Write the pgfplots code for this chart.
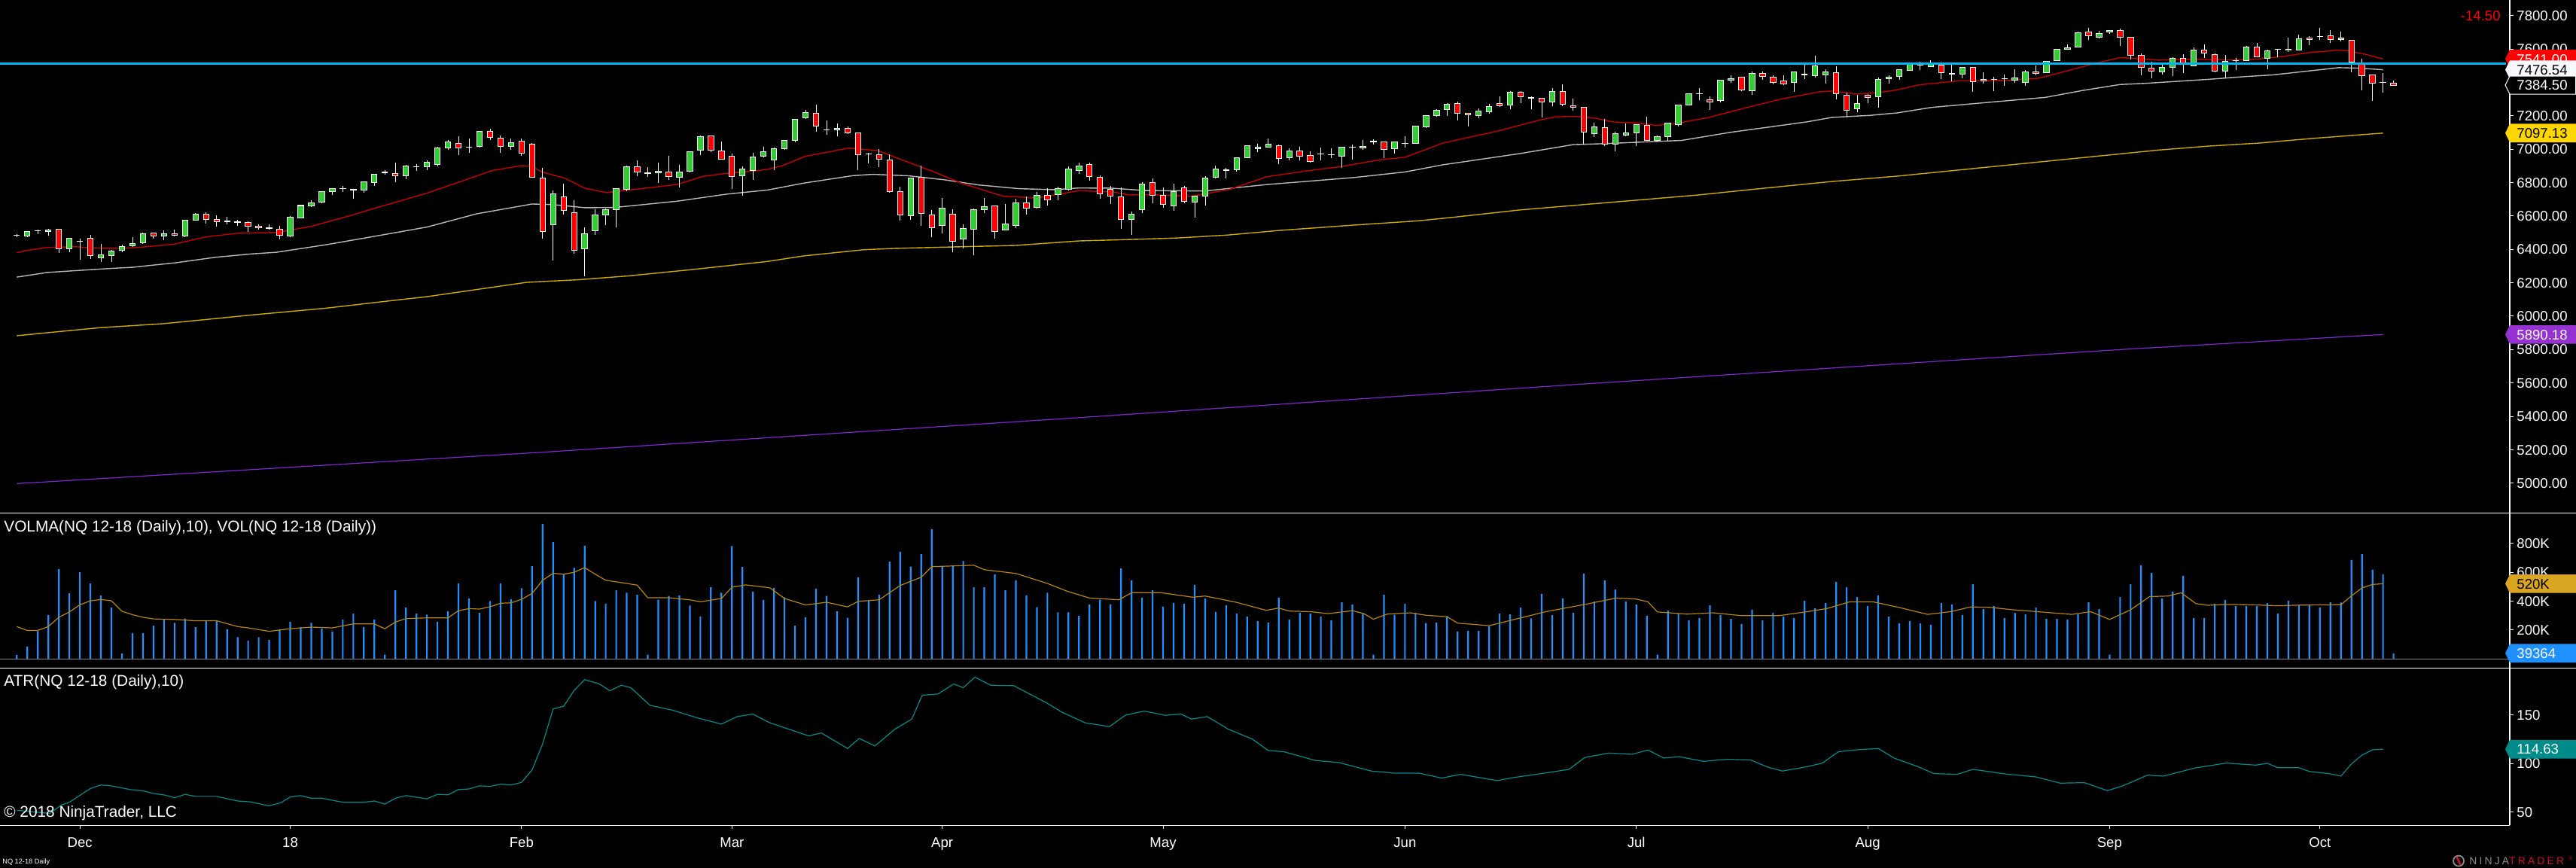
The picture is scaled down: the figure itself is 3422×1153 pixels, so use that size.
\documentclass[border=0pt]{standalone}
\usepackage{fontspec}
\setmainfont{Liberation Sans}
\usepackage{pgfplots}
\pgfplotsset{compat=1.18}
\usepackage{pgfplotstable}

\definecolor{upc}{RGB}{50,205,50}
\definecolor{dnc}{RGB}{255,0,0}
\definecolor{maA}{RGB}{195,0,0}
\definecolor{maB}{RGB}{185,185,185}
\definecolor{maC}{RGB}{205,172,0}
\definecolor{maD}{RGB}{125,40,210}
\definecolor{hline}{RGB}{0,182,240}
\definecolor{volc}{RGB}{30,144,255}
\definecolor{volma}{RGB}{184,134,11}
\definecolor{atrc}{RGB}{0,139,139}
\definecolor{tgold}{RGB}{255,215,0}
\definecolor{tpurp}{RGB}{150,50,210}
\definecolor{tvolma}{RGB}{218,165,32}
\definecolor{tteal}{RGB}{0,139,139}
\definecolor{ghost}{RGB}{248,248,255}
\definecolor{ninjagray}{RGB}{140,140,140}
\definecolor{ninjared}{RGB}{200,16,46}

\newcommand\lbl{\fontsize{9.3bp}{11bp}\selectfont}
\newcommand\plbl{\fontsize{10.4bp}{12bp}\selectfont}

\pgfplotstableread{
i O H L C
0 6483 6491 6472 6485
1 6479 6511 6475 6508
2 6510 6518 6490 6512
3 6506 6523 6484 6517
4 6521 6521 6380 6404
5 6404 6467 6385 6467
6 6447 6464 6340 6449
7 6467 6485 6344 6364
8 6350 6433 6326 6368
9 6364 6397 6326 6391
10 6395 6427 6385 6418
11 6421 6473 6415 6436
12 6439 6500 6433 6494
13 6499 6499 6466 6481
14 6479 6512 6457 6493
15 6494 6517 6479 6485
16 6479 6576 6475 6576
17 6576 6618 6576 6612
18 6612 6621 6556 6580
19 6580 6604 6538 6567
20 6567 6594 6552 6569
21 6565 6576 6543 6563
22 6562 6567 6506 6540
23 6540 6549 6520 6531
24 6527 6549 6520 6529
25 6521 6541 6461 6485
26 6479 6598 6475 6594
27 6589 6667 6589 6663
28 6661 6693 6655 6679
29 6682 6747 6678 6747
30 6747 6765 6728 6765
31 6763 6780 6746 6765
32 6757 6759 6705 6759
33 6756 6806 6741 6806
34 6801 6851 6782 6851
35 6860 6875 6849 6862
36 6855 6920 6804 6842
37 6842 6908 6822 6901
38 6894 6910 6872 6896
39 6896 6934 6875 6923
40 6908 7015 6899 7009
41 7009 7054 6998 7045
42 7036 7077 6967 7009
43 7011 7065 6980 7013
44 7016 7108 7012 7108
45 7108 7122 7057 7072
46 7068 7081 6980 7018
47 7018 7063 6998 7040
48 7049 7063 6962 6977
49 7031 7037 6828 6833
50 6828 6889 6466 6508
51 6549 6752 6335 6734
52 6716 6794 6610 6634
53 6621 6695 6376 6395
54 6404 6532 6241 6495
55 6513 6639 6489 6607
56 6607 6643 6547 6639
57 6639 6765 6534 6765
58 6761 6902 6747 6896
59 6896 6934 6840 6865
60 6857 6893 6836 6859
61 6860 6920 6800 6869
62 6865 6961 6818 6838
63 6833 6907 6773 6865
64 6869 6986 6860 6986
65 6995 7081 6967 7077
66 7081 7081 6982 6995
67 6991 7045 6937 6941
68 6959 6973 6764 6837
69 6842 6896 6723 6883
70 6874 6977 6818 6955
71 6959 7013 6950 6986
72 6937 7009 6877 7004
73 7004 7054 6995 7054
74 7054 7180 7043 7180
75 7189 7234 7180 7221
76 7216 7268 7107 7140
77 7115 7171 7089 7117
78 7117 7153 7080 7126
79 7126 7135 7090 7099
80 7099 7099 6877 6968
81 6970 6977 6917 6972
82 6968 7000 6895 6941
83 6937 6968 6740 6747
84 6747 6774 6574 6607
85 6603 6828 6579 6828
86 6833 6901 6543 6615
87 6607 6634 6475 6531
88 6544 6707 6498 6648
89 6612 6639 6382 6450
90 6463 6549 6404 6526
91 6522 6644 6364 6639
92 6639 6707 6616 6657
93 6662 6662 6463 6508
94 6517 6671 6517 6553
95 6544 6702 6526 6680
96 6680 6716 6607 6648
97 6652 6743 6644 6725
98 6725 6765 6662 6698
99 6729 6774 6693 6765
100 6761 6896 6752 6883
101 6874 6919 6851 6901
102 6910 6919 6810 6837
103 6833 6842 6702 6734
104 6761 6779 6671 6720
105 6716 6770 6522 6580
106 6580 6625 6486 6612
107 6639 6801 6616 6792
108 6801 6825 6678 6725
109 6725 6770 6651 6669
110 6661 6792 6633 6747
111 6770 6779 6678 6689
112 6684 6720 6592 6720
113 6720 6837 6664 6828
114 6833 6901 6825 6883
115 6874 6887 6827 6876
116 6878 6950 6864 6950
117 6950 7022 6946 7022
118 7004 7033 6982 7013
119 7013 7064 7009 7031
120 7022 7028 6910 6946
121 6950 7004 6932 6991
122 6991 7013 6932 6959
123 6964 6986 6919 6928
124 6972 7009 6935 6974
125 6966 7004 6946 6968
126 6959 7013 6887 7013
127 7012 7027 6940 7014
128 7009 7054 6998 7018
129 7045 7058 7027 7047
130 7045 7045 6946 7000
131 7004 7045 6973 7045
132 7033 7078 7012 7035
133 7036 7140 7031 7140
134 7135 7203 7126 7203
135 7203 7239 7194 7234
136 7239 7275 7198 7270
137 7275 7284 7171 7216
138 7216 7216 7135 7207
139 7203 7243 7185 7230
140 7225 7270 7212 7257
141 7275 7316 7252 7261
142 7266 7347 7239 7343
143 7343 7347 7275 7316
144 7306 7316 7239 7308
145 7307 7307 7189 7284
146 7284 7365 7257 7347
147 7347 7388 7257 7271
148 7262 7302 7230 7253
149 7253 7253 7027 7104
150 7095 7158 7072 7135
151 7131 7180 7018 7032
152 7032 7104 6986 7095
153 7086 7153 7077 7099
154 7099 7149 7018 7149
155 7144 7194 7054 7054
156 7054 7081 7045 7077
157 7077 7158 7050 7158
158 7149 7266 7135 7266
159 7266 7334 7266 7334
160 7333 7365 7293 7335
161 7298 7316 7235 7284
162 7293 7415 7280 7415
163 7415 7442 7397 7424
164 7433 7433 7347 7356
165 7352 7465 7325 7456
166 7456 7465 7415 7438
167 7433 7442 7388 7401
168 7410 7442 7383 7392
169 7401 7465 7343 7465
170 7447 7511 7420 7449
171 7442 7561 7428 7501
172 7446 7478 7392 7465
173 7460 7496 7298 7334
174 7325 7338 7194 7235
175 7244 7325 7221 7275
176 7325 7329 7275 7311
177 7316 7428 7248 7419
178 7424 7442 7392 7433
179 7438 7478 7415 7478
180 7474 7519 7474 7510
181 7504 7523 7474 7506
182 7496 7532 7492 7510
183 7505 7505 7422 7460
184 7451 7510 7406 7453
185 7451 7492 7424 7492
186 7492 7492 7346 7406
187 7419 7460 7394 7410
188 7418 7433 7350 7420
189 7421 7446 7382 7423
190 7415 7478 7400 7428
191 7401 7474 7382 7464
192 7464 7501 7442 7455
193 7460 7528 7455 7528
194 7532 7600 7532 7600
195 7600 7627 7595 7609
196 7613 7704 7613 7699
197 7704 7726 7657 7681
198 7672 7708 7663 7695
199 7704 7713 7690 7713
200 7713 7722 7618 7672
201 7672 7672 7537 7564
202 7564 7573 7442 7492
203 7487 7523 7424 7469
204 7465 7510 7446 7492
205 7492 7550 7437 7546
206 7546 7568 7455 7514
207 7501 7609 7501 7595
208 7595 7627 7546 7577
209 7568 7573 7460 7469
210 7469 7564 7424 7528
211 7531 7546 7474 7533
212 7532 7618 7528 7613
213 7613 7636 7550 7555
214 7546 7595 7478 7591
215 7597 7601 7550 7599
216 7594 7667 7582 7600
217 7595 7685 7591 7663
218 7667 7676 7622 7658
219 7675 7726 7654 7677
220 7681 7713 7636 7658
221 7658 7703 7645 7667
222 7654 7654 7460 7523
223 7510 7541 7352 7442
224 7446 7446 7289 7397
225 7399 7455 7341 7401
226 7397 7410 7383 7384.5
}\ohlc

\pgfplotstableread{
i V
0 27
1 85
2 192
3 304
4 621
5 454
6 599
7 522
8 438
9 355
10 38
11 179
12 179
13 230
14 276
15 250
16 280
17 219
18 267
19 267
20 205
21 151
22 126
23 151
24 131
25 205
26 256
27 219
28 250
29 210
30 188
31 273
32 313
33 219
34 273
35 30
36 474
37 355
38 313
39 307
40 256
41 329
42 522
43 418
44 318
45 401
46 522
47 412
48 489
49 641
50 933
51 808
52 585
53 630
54 783
55 401
56 381
57 475
58 458
59 444
60 30
61 409
62 435
63 440
64 369
65 292
66 496
67 458
68 780
69 636
70 464
71 407
72 492
73 427
74 230
75 288
76 485
77 435
78 329
79 284
80 564
81 406
82 444
83 672
84 740
85 639
86 726
87 898
88 643
89 643
90 678
91 496
92 496
93 585
94 475
95 543
96 440
97 357
98 458
99 323
100 323
101 298
102 376
103 409
104 377
105 626
106 543
107 423
108 475
109 362
110 386
111 381
112 512
113 418
114 325
115 371
116 313
117 292
118 261
119 251
120 423
121 271
122 319
123 313
124 292
125 267
126 391
127 376
128 313
129 30
130 444
131 305
132 381
133 319
134 248
135 251
136 296
137 190
138 194
139 194
140 225
141 313
142 308
143 355
144 281
145 449
146 303
147 418
148 319
149 589
150 396
151 543
152 480
153 396
154 376
155 298
156 30
157 334
158 313
159 267
160 282
161 371
162 303
163 277
164 240
165 340
166 267
167 319
168 292
169 282
170 402
171 350
172 386
173 532
174 496
175 428
176 365
177 438
178 292
179 246
180 261
181 246
182 236
183 386
184 376
185 303
186 516
187 344
188 365
189 282
190 319
191 308
192 355
193 277
194 277
195 271
196 308
197 391
198 344
199 30
200 428
201 516
202 647
203 595
204 418
205 464
206 574
207 282
208 282
209 381
210 407
211 365
212 365
213 365
214 386
215 313
216 403
217 372
218 374
219 355
220 392
221 390
222 684
223 724
224 616
225 585
226 39.364
}\vol

\newcommand\ptag[4]{%
  \fill[#2] (3328,#1) -- (3334,#1-12.3) -- (3422,#1-12.3) -- (3422,#1+12.3) -- (3334,#1+12.3) -- cycle;
  \node[anchor=base west,inner sep=0,text=#3,font=\lbl] at (3343,#1+6.66) {#4};}

\begin{document}
\begin{tikzpicture}[x=0.5bp,y=-0.5bp]
\fill[black] (0,0) rectangle (3422,1153);

% ---------------- price panel ----------------
\begin{axis}[at={(0bp,0bp)}, anchor=north west, scale only axis,
  width=1667bp, height=340.55bp,
  xmin=-1.596, xmax=237.06, ymin=4822.3, ymax=7894.4, hide axis]
\addplot[maD, line width=0.6bp] coordinates {(0,4997) (50,5185) (100,5388) (150,5598) (200,5800) (225,5890.18)};
\addplot[maC, line width=0.7bp] coordinates {(0,5883) (3.9,5907) (7.9,5931) (13.9,5955) (17.5,5977) (22.3,6007) (29.4,6048) (35.6,6093) (39,6117) (48.5,6203) (53.3,6218) (58.1,6241) (64,6278) (71.4,6328) (74.8,6361) (80.5,6398) (83.4,6406) (89.1,6415) (95,6424) (101,6451) (107.2,6462) (110.5,6469) (115.1,6486) (120.1,6514) (127.2,6546) (133.2,6571) (136.8,6594) (143,6637) (159.7,6725) (165.4,6762) (172.6,6807) (178.8,6839) (203.6,6995) (208.4,7019) (213.2,7037) (217.9,7063) (225,7097.13)};
\addplot[maB, line width=0.7bp] coordinates {(0,6234) (2.9,6262) (5.6,6273) (8.9,6286) (11,6293) (15.1,6320) (18.9,6353) (22.3,6373) (24.7,6383) (29.4,6428) (35.6,6496) (39,6534) (43.7,6613) (49,6672) (50.9,6669) (54,6650) (56.8,6651) (62.8,6689) (67.6,6732) (71.4,6756) (74.8,6797) (79.5,6842) (81.4,6850) (84.8,6841) (88.1,6818) (91.5,6786) (95.3,6764) (98.6,6758) (101,6768) (104.1,6767) (107.2,6753) (112.9,6750) (118.9,6789) (122.5,6807) (127.2,6831) (132,6864) (135.6,6907) (139.2,6940) (143,6975) (148,7028) (151.1,7034) (155.9,7047) (158.3,7053) (163,7102) (170.2,7164) (172.6,7191) (176.2,7203) (178.8,7218) (182.1,7251) (186.9,7278) (192.9,7311) (196.5,7353) (200,7388) (202.4,7395) (208.4,7419) (212,7436) (214.6,7446) (217.9,7469) (220.8,7489) (222.7,7486) (225,7476.54)};
\addplot[maA, line width=0.7bp] coordinates {(0,6380) (1,6394) (2.9,6412) (5.6,6416) (7.9,6407) (9.9,6406) (11.8,6413) (14.9,6431) (18,6475) (20.8,6496) (24.7,6502) (28,6538) (31.8,6604) (34.2,6650) (35.6,6675) (39,6737) (45.2,6872) (48,6902) (49,6898) (49.9,6865) (52.1,6827) (54,6767) (56.1,6740) (58.1,6755) (62.8,6789) (65.2,6837) (67.6,6857) (70,6869) (71.4,6880) (72.8,6902) (75,6958) (79.1,7007) (81.9,6992) (84.1,6938) (87.2,6865) (89.8,6797) (93.8,6719) (97,6708) (101,6752) (104.3,6744) (105.8,6726) (107.2,6729) (111.7,6719) (115.3,6759) (118.9,6836) (122.5,6869) (126.1,6898) (129.6,6937) (132,6952) (135.6,7037) (139.2,7087) (140.9,7110) (143,7145) (144.7,7173) (146.3,7194) (148,7198) (149.9,7188) (151.8,7164) (154,7158) (155.9,7143) (157.8,7155) (160.9,7191) (164.2,7245) (167.8,7301) (171.4,7344) (172.6,7349) (175,7331) (176.9,7338) (178.8,7356) (180.9,7386) (184.5,7409) (189.3,7413) (192.2,7425) (194.1,7455) (197.7,7516) (200,7549) (202.4,7540) (203.6,7534) (207.2,7540) (210.8,7534) (213.2,7541) (215.5,7556) (217.9,7579) (220.8,7594) (221.7,7588) (223.2,7571) (225,7541)};
% wicks
\addplot[draw=none, mark=none, forget plot,
  error bars/.cd, y dir=plus, y explicit, error mark=none,
  error bar style={draw=white, line width=0.45bp}]
  table[x=i, y=L, y error plus expr={\thisrow{H}-\thisrow{L}}] {\ohlc};
% body outlines
\addplot[draw=none, mark=none, forget plot,
  error bars/.cd, y dir=plus, y explicit, error mark=none,
  error bar style={draw=white, line width=4.2bp}]
  table[x=i, y expr={min(\thisrow{O},\thisrow{C})-2.3}, y error plus expr={abs(\thisrow{C}-\thisrow{O})+4.6}] {\ohlc};
% up fills
\addplot[draw=none, mark=none, forget plot,
  error bars/.cd, y dir=plus, y explicit, error mark=none,
  error bar style={draw=upc, line width=3.2bp}]
  table[x=i, y expr={\thisrow{O}+2.3}, y error plus expr={max(\thisrow{C}-\thisrow{O}-4.6,0)}] {\ohlc};
% down fills
\addplot[draw=none, mark=none, forget plot,
  error bars/.cd, y dir=plus, y explicit, error mark=none,
  error bar style={draw=dnc, line width=3.2bp}]
  table[x=i, y expr={\thisrow{C}+2.3}, y error plus expr={max(\thisrow{O}-\thisrow{C}-4.6,0)}] {\ohlc};
\addplot[hline, line width=1.5bp] coordinates {(-1.6,7514) (236.7,7514)};
\end{axis}

% ---------------- volume panel ----------------
\begin{axis}[at={(0bp,-340.55bp)}, anchor=north west, scale only axis,
  width=1667bp, height=103.2bp,
  xmin=-1.596, xmax=237.06, ymin=-63.5, ymax=1010.6, hide axis]
\addplot[ybar, bar width=1.1bp, fill=volc, draw=none] table[x=i, y=V] {\vol};
\addplot[volma, line width=0.6bp] coordinates {(0,224) (1,197) (2,197) (3,224) (4,288) (5,325) (6,374) (7,402) (8,411) (9,402) (10,330) (11,306) (12,288) (13,277) (15,273) (17,264) (19,264) (21,224) (22,215) (24,191) (26,209) (28,220) (30,215) (32,242) (34,242) (35,209) (36,255) (37,279) (39,284) (41,284) (42,334) (43,348) (44,345) (45,361) (46,385) (47,388) (48,412) (49,453) (50,544) (51,592) (52,586) (53,599) (54,631) (55,586) (56,544) (58,522) (59,510) (60,423) (62,423) (64,409) (65,395) (67,418) (68,496) (69.3,512) (71.6,492) (73,418) (75,373) (77,392) (79,360) (80,398) (82,409) (84,508) (86,565) (87,638) (91,648) (92,617) (95,591) (98,522) (99.8,470) (102,421) (104.8,409) (106,458) (108.8,458) (111.8,427) (113,435) (116,391) (118.8,336) (120,352) (121,331) (123,327) (124.7,313) (127,334) (128.1,313) (129,275) (130.3,310) (132.5,319) (134,302) (136,292) (137,248) (140,230) (142.5,275) (145.4,327) (149.1,377) (152.1,421) (154,414) (155.1,395) (156,325) (158.8,310) (161.3,319) (163.9,300) (167.6,300) (169.9,323) (172.1,348) (174.3,395) (176.5,395) (179.1,354) (181.7,308) (183.9,327) (185.8,360) (187.6,357) (189.8,340) (192.8,323) (195.4,308) (197.2,327) (199,273) (201,340) (202.8,431) (204.6,435) (205.8,458) (207.2,383) (208.3,371) (210.5,377) (213,373) (215,368) (217,372) (221,375) (222,436) (223,491) (224,515) (225,520)};
\end{axis}

% ---------------- ATR panel ----------------
\begin{axis}[at={(0bp,-443.75bp)}, anchor=north west, scale only axis,
  width=1667bp, height=104.4bp,
  xmin=-1.596, xmax=237.06, ymin=36.5, ymax=197.8, hide axis]
\addplot[atrc, line width=0.6bp] coordinates {(0,52) (3.15,48.7) (4.25,57.4) (5,60.2) (7,74.3) (8,77.9) (9,77) (10.8,73.2) (12,71.9) (13,69.2) (14.1,67.5) (15,64.8) (16,68.3) (17,66.2) (19,66.2) (21,61.5) (22.1,60.7) (24,56.6) (25.1,59.6) (26,65.6) (27,67) (28,64.3) (29,64.3) (31,60.2) (33,60.2) (34,61.5) (35,58.3) (36,64.3) (37,67) (39,63.7) (40,68.3) (41,67.8) (42,73.2) (43,73.8) (44,77) (45,76.5) (46,78.7) (47,77.9) (48,80.6) (49,93.4) (50,120) (51,156) (52,158.7) (53,175) (54,186) (55.4,181.6) (56.4,174.6) (57.5,180.3) (58.4,177.7) (60.2,159.7) (62.4,154.5) (64.7,146.8) (67,140.4) (68.5,148.1) (70,150.7) (71.5,142.2) (73.4,135.2) (75.3,128.3) (76.5,131.3) (79,115.4) (80.1,125.7) (81.6,118) (83.5,135.2) (85.1,145.5) (86.1,170) (87.6,171.3) (89.1,181.6) (90,177.7) (91.1,188.6) (92.6,180.3) (94.8,179.8) (97.9,162.3) (99.4,152.5) (101.6,141.7) (103.9,137.8) (105.4,149.4) (107.2,153.8) (109.2,149.4) (110.7,150.7) (111.7,145.5) (113.2,148.1) (115.2,135.2) (117.5,124.9) (119,113.3) (120.5,112) (123.5,103) (125.7,101) (128.8,92.2) (131,90.1) (133.3,90.1) (135.5,85) (137.3,88.8) (140.8,82.4) (142.3,85.5) (145.3,90.1) (147.6,94) (149.1,106.1) (151.4,110.7) (153.6,109.4) (155.1,113.8) (156.6,105.6) (158.1,106.9) (160.4,102.2) (162.7,104.3) (164.9,103.5) (166.4,96.6) (167.9,92.2) (170.2,96.6) (171.7,100.4) (173.2,112) (174.7,113.8) (177,115.4) (178.5,105.6) (180.8,96.6) (182.3,89.6) (184.5,88.8) (186,94) (189,89.3) (192,86.2) (194.3,79.8) (196.6,80.3) (198.8,72.1) (200.3,77.2) (202.6,88) (204.1,87) (207.1,95.3) (210.1,100.4) (212.9,98.3) (214,100.2) (215,95.6) (217,95.6) (218,91.8) (220,89.3) (221,87.1) (222,99.6) (223,108.6) (224,114) (225,114.63)};
\end{axis}

% ---------------- frame lines ----------------
\draw[white, line width=0.6bp] (0,681.1) -- (3422,681.1);
\draw[white, line width=0.6bp] (0,887.5) -- (3422,887.5);
\draw[white, line width=0.6bp] (0,1096.3) -- (3334,1096.3);
\draw[white, line width=0.6bp] (3334,0) -- (3334,1096.3);
\draw[gray, line width=0.5bp] (0,875.3) -- (3334,875.3);

% price ticks
\foreach \p in {5000,5200,...,7800}{
  \pgfmathsetmacro\yy{198.3-(\p-7000)*0.2217}
  \draw[white, line width=0.5bp] (3334,\yy) -- (3339,\yy);
  \node[anchor=base west,inner sep=0,text=white,font=\lbl] at (3343,\yy+6.66) {\p.00};
}
% volume ticks
\foreach \v in {200,400,600,800}{
  \pgfmathsetmacro\yy{875.3-\v/5.204}
  \draw[white, line width=0.5bp] (3334,\yy) -- (3339,\yy);
  \node[anchor=base west,inner sep=0,text=white,font=\lbl] at (3343,\yy+6.66) {\v K};
}
% ATR ticks
\foreach \v in {50,100,150}{
  \pgfmathsetmacro\yy{1014.1-(\v-100)*1.295}
  \draw[white, line width=0.5bp] (3334,\yy) -- (3339,\yy);
  \node[anchor=base west,inner sep=0,text=white,font=\lbl] at (3343,\yy+6.66) {\v};
}
% month ticks
\foreach \i/\m in {6/Dec,26/18,48/Feb,68/Mar,88/Apr,109/May,132/Jun,154/Jul,176/Aug,199/Sep,219/Oct}{
  \pgfmathsetmacro\xx{22.3+13.97*\i}
  \draw[white, line width=0.5bp] (\xx,1096.3) -- (\xx,1100.9);
  \node[anchor=base,inner sep=0,text=white,font=\lbl] at (\xx,1125.9) {\m};
}

% value tags
\ptag{78.4}{dnc}{white}{7541.00}
\ptag{92.6}{ghost}{black}{7476.54}
\filldraw[fill=black, draw=white, line width=0.5bp] (3328,113.1) -- (3334,101.1) -- (3421.5,101.1) -- (3421.5,125.1) -- (3334,125.1) -- cycle;
\node[anchor=base west,inner sep=0,text=white,font=\lbl] at (3343,119.76) {7384.50};
\ptag{176.8}{tgold}{black}{7097.13}
\ptag{444.4}{tpurp}{white}{5890.18}
\ptag{775.4}{tvolma}{black}{520K}
\ptag{867.7}{volc}{white}{39364}
\ptag{995.2}{tteal}{white}{114.63}

% texts
\node[anchor=base east,inner sep=0,text=red,font=\lbl] at (3322,27.4) {-14.50};
\node[anchor=base west,inner sep=0,text=white,font=\plbl] at (5,706.5) {VOLMA(NQ 12-18 (Daily),10), VOL(NQ 12-18 (Daily))};
\node[anchor=base west,inner sep=0,text=white,font=\plbl] at (5,911.7) {ATR(NQ 12-18 (Daily),10)};
\node[anchor=base west,inner sep=0,text=white,font=\plbl] at (5,1085.5) {\char"00A9\ 2018 NinjaTrader, LLC};
\node[anchor=base west,inner sep=0,text=white,font=\fontsize{4.6bp}{5bp}\selectfont] at (3,1147) {NQ 12-18 Daily};
% logo
\draw[ninjagray, line width=0.9bp] (3266,1143.6) circle (7);
\fill[ninjared] (3262,1138) -- (3265,1138) -- (3270,1149) -- (3267,1149) -- cycle;
\node[anchor=base west,inner sep=0,font=\fontsize{7bp}{8bp}\selectfont\addfontfeatures{LetterSpace=22}] at (3280,1148.7)
  {\textcolor{ninjagray}{NINJA}\textcolor{ninjared}{TRADER}};
\node[anchor=base west,inner sep=0,text=ninjared,font=\fontsize{3.5bp}{4bp}\selectfont] at (3412,1142) {\char"00AE};

\pgfresetboundingbox
\useasboundingbox (0,0) rectangle (3422,1153);
\end{tikzpicture}
\end{document}
